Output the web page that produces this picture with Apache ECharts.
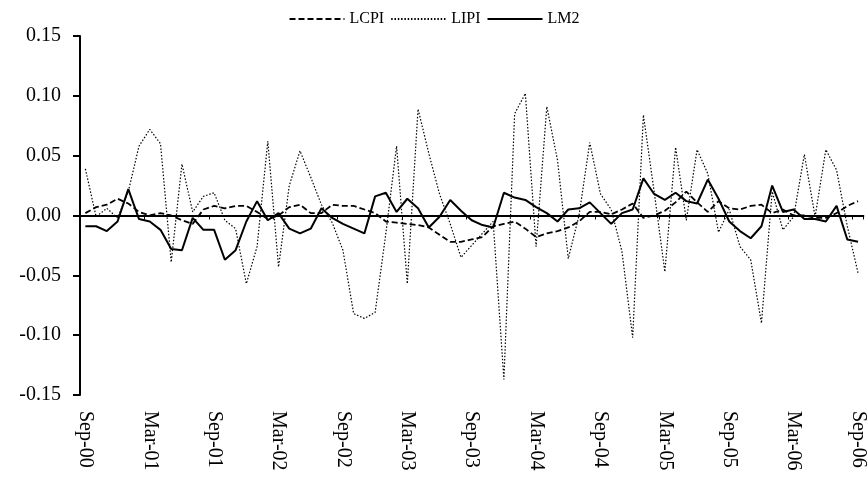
<!DOCTYPE html>
<html>
<head>
<meta charset="utf-8">
<script src="https://cdn.jsdelivr.net/npm/echarts@6/dist/echarts.min.js"></script>
<style>
html,body{margin:0;padding:0;background:#fff;}
#chart{width:868px;height:479px;}
</style>
</head>
<body>
<div id="chart"></div>
<script>
var categories = [
 'Sep-00','Oct-00','Nov-00','Dec-00','Jan-01','Feb-01','Mar-01','Apr-01','May-01','Jun-01','Jul-01','Aug-01',
 'Sep-01','Oct-01','Nov-01','Dec-01','Jan-02','Feb-02','Mar-02','Apr-02','May-02','Jun-02','Jul-02','Aug-02',
 'Sep-02','Oct-02','Nov-02','Dec-02','Jan-03','Feb-03','Mar-03','Apr-03','May-03','Jun-03','Jul-03','Aug-03',
 'Sep-03','Oct-03','Nov-03','Dec-03','Jan-04','Feb-04','Mar-04','Apr-04','May-04','Jun-04','Jul-04','Aug-04',
 'Sep-04','Oct-04','Nov-04','Dec-04','Jan-05','Feb-05','Mar-05','Apr-05','May-05','Jun-05','Jul-05','Aug-05',
 'Sep-05','Oct-05','Nov-05','Dec-05','Jan-06','Feb-06','Mar-06','Apr-06','May-06','Jun-06','Jul-06','Aug-06',
 'Sep-06'
];
var lcpi = [
 0.002,0.007,0.009,0.014,0.010,0.003,0.000,0.002,0.000,-0.004,-0.007,0.005,
 0.008,0.006,0.008,0.008,0.003,-0.003,0.000,0.007,0.009,0.002,0.002,0.009,
 0.008,0.008,0.005,0.002,-0.005,-0.006,-0.007,-0.008,-0.010,-0.016,-0.022,-0.022,
 -0.020,-0.018,-0.009,-0.007,-0.005,-0.011,-0.018,-0.015,-0.013,-0.010,-0.005,0.003,
 0.003,0.001,0.005,0.010,-0.002,0.000,0.004,0.011,0.020,0.011,0.003,0.012,
 0.006,0.005,0.008,0.009,0.002,0.005,0.000,0.000,-0.002,-0.002,0.002,0.008,
 0.012
];
var lipi = [
 0.039,-0.001,0.006,-0.002,0.020,0.058,0.072,0.060,-0.039,0.043,0.003,0.016,
 0.019,-0.004,-0.011,-0.057,-0.026,0.062,-0.043,0.025,0.054,0.032,0.009,-0.006,
 -0.029,-0.082,-0.086,-0.081,-0.015,0.058,-0.057,0.089,0.052,0.018,-0.007,-0.035,
 -0.025,-0.015,-0.005,-0.137,0.085,0.102,-0.026,0.091,0.046,-0.036,0.000,0.061,
 0.018,0.005,-0.030,-0.102,0.084,0.020,-0.047,0.057,-0.004,0.055,0.035,-0.014,
 0.005,-0.026,-0.037,-0.090,0.020,-0.012,-0.001,0.051,-0.001,0.055,0.038,-0.009,
 -0.048
];
var lm2 = [
 -0.009,-0.009,-0.013,-0.005,0.022,-0.003,-0.005,-0.012,-0.028,-0.029,-0.002,-0.012,
 -0.012,-0.037,-0.029,-0.005,0.012,-0.004,0.002,-0.011,-0.015,-0.011,0.006,-0.002,
 -0.007,-0.011,-0.015,0.016,0.019,0.003,0.014,0.006,-0.010,-0.001,0.013,0.004,
 -0.004,-0.008,-0.010,0.019,0.015,0.013,0.007,0.002,-0.005,0.005,0.006,0.011,
 0.002,-0.007,0.002,0.005,0.031,0.018,0.013,0.019,0.012,0.010,0.030,0.014,
 -0.005,-0.013,-0.019,-0.009,0.025,0.003,0.005,-0.003,-0.003,-0.005,0.008,-0.020,
 -0.022
];
var yTicks = [-0.15,-0.10,-0.05,0.00,0.05,0.10,0.15];

var FONT = 'Liberation Serif';
var chart = echarts.init(document.getElementById('chart'), null, {renderer:'canvas'});
chart.setOption({
  backgroundColor:'#fff',
  animation:false,
  textStyle:{fontFamily:FONT,color:'#000'},
  legend:{
    top:6,
    left:'center',
    itemWidth:55,
    itemHeight:10,
    itemGap:6,
    itemStyle:{opacity:0},
    textStyle:{fontFamily:FONT,fontSize:16,color:'#000'},
    data:['LCPI','LIPI','LM2']
  },
  grid:{left:80,right:0,top:36,bottom:84,containLabel:false},
  xAxis:[{
    type:'category',
    data:categories,
    boundaryGap:true,
    position:'bottom',
    axisLine:{show:false,onZero:false},
    axisTick:{show:false},
    splitLine:{show:false},
    axisLabel:{interval:5,rotate:-90,margin:16,fontFamily:FONT,fontSize:20,color:'#000'}
  },{
    type:'category',
    data:categories,
    boundaryGap:true,
    position:'bottom',
    axisLine:{show:true,onZero:true,lineStyle:{color:'#000',width:2}},
    axisTick:{show:true,interval:5,length:4,inside:false,lineStyle:{color:'#000',width:1}},
    axisLabel:{show:false},
    splitLine:{show:false}
  }],
  yAxis:{
    type:'value',
    min:yTicks[0],
    max:yTicks[yTicks.length-1],
    interval:0.05,
    axisLine:{show:true,lineStyle:{color:'#000',width:2}},
    axisTick:{show:true,length:7,lineStyle:{color:'#000',width:2}},
    splitLine:{show:false},
    axisLabel:{margin:19,fontFamily:FONT,fontSize:20,color:'#000',
      formatter:function(v){return v.toFixed(2);}}
  },
  series:[{
    name:'LCPI',type:'line',data:lcpi,symbol:'none',xAxisIndex:0,
    lineStyle:{color:'#000',width:1.8,type:[6,3]},itemStyle:{color:'#000'}
  },{
    name:'LIPI',type:'line',data:lipi,symbol:'none',xAxisIndex:0,
    lineStyle:{color:'#000',width:1.2,type:[1.5,1.8]},itemStyle:{color:'#000'}
  },{
    name:'LM2',type:'line',data:lm2,symbol:'none',xAxisIndex:0,
    lineStyle:{color:'#000',width:2},itemStyle:{color:'#000'}
  }]
});
</script>
</body>
</html>
